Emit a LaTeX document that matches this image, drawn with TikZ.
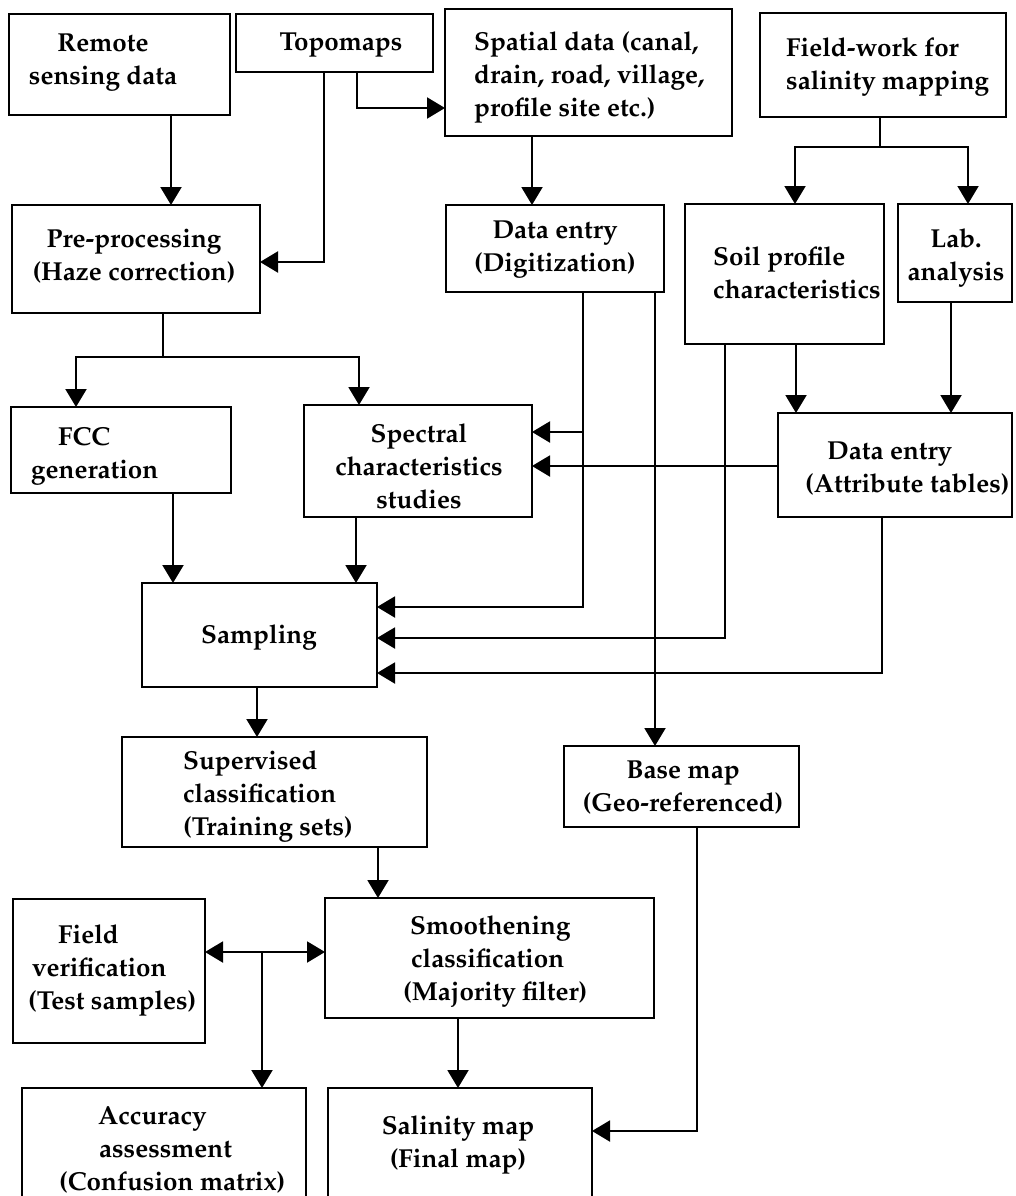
\documentclass[tikz,border=0pt]{standalone}
\usepackage[T1]{fontenc}
\usepackage{mathpazo}
\usetikzlibrary{arrows.meta}

\begin{document}
\begin{tikzpicture}[x=1pt,y=-1pt,
  box/.style={draw, line width=1.9pt, inner sep=0pt, outer sep=0pt},
  lbl/.style={font=\fontsize{26}{33}\selectfont\bfseries, inner sep=0pt, align=center},
  lbll/.style={lbl, align=left, anchor=west},
  link/.style={line width=2pt},
  arr/.style={link, -{Triangle[length=18pt,width=21pt]}},
  darr/.style={link, {Triangle[length=18pt,width=21pt]}-{Triangle[length=18pt,width=21pt]}}]

\clip (0,0) rectangle (1015,1196);
\fill[white] (0,0) rectangle (1015,1196);

% ---------- boxes ----------
\node[box, minimum width=221, minimum height=101] (rs)   at (119.5,64.5) {};
\node[box, minimum width=197, minimum height=58]  (topo) at (334.5,43)   {};
\node[box, minimum width=287, minimum height=127] (sp)   at (588.5,72.5) {};
\node[box, minimum width=246, minimum height=104] (fw)   at (883,65)     {};
\node[box, minimum width=248, minimum height=108] (pre)  at (136,259)    {};
\node[box, minimum width=218, minimum height=87]  (dig)  at (555,248.5)  {};
\node[box, minimum width=199, minimum height=140] (soil) at (784.5,274)  {};
\node[box, minimum width=114, minimum height=98]  (lab)  at (955,253)    {};
\node[box, minimum width=220, minimum height=86]  (fcc)  at (121,450)    {};
\node[box, minimum width=228, minimum height=112] (spec) at (418,461)    {};
\node[box, minimum width=234, minimum height=104] (attr) at (895,465)    {};
\node[box, minimum width=235, minimum height=104] (samp) at (259.5,635)  {};
\node[box, minimum width=305, minimum height=110] (sup)  at (274.5,792)  {};
\node[box, minimum width=235, minimum height=81]  (base) at (681.5,786.5){};
\node[box, minimum width=192, minimum height=144] (fv)   at (109,971)    {};
\node[box, minimum width=329, minimum height=120] (sm)   at (489.5,958)  {};
\node[box, minimum width=284, minimum height=127] (acc)  at (164,1151.5) {};
\node[box, minimum width=264, minimum height=127] (sal)  at (460,1151.5) {};

% ---------- texts ----------
\node[lbl]  (rs-t)   at (103,63)   {Remote\\sensing data};
\node[lbl]  (topo-t) at (341,45)   {Topomaps};
\node[lbll] (sp-t)   at (474,77)   {Spatial data (canal,\\drain, road, village,\\profile site etc.)};
\node[lbll] (fw-t)   at (786,67)   {Field-work for\\salinity mapping};
\node[lbl]  (pre-t)  at (134,256)  {Pre-processing\\(Haze correction)};
\node[lbl]  (dig-t)  at (555,250)  {Data entry\\(Digitization)};
\node[lbll] (soil-t) at (713,273)  {Soil profile\\characteristics};
\node[lbl]  (lab-t)  at (956,258)  {Lab.\\analysis};
\node[lbll] (fcc-t)  at (31,456)   {\hspace*{27pt}FCC\\generation};
\node[lbl]  (spec-t) at (419,466)  {Spectral\\characteristics\\studies};
\node[lbll] (attr-t) at (805,469)  {\hspace*{22pt}Data entry\\(Attribute tables)};
\node[lbl]  (samp-t) at (259,637)  {Sampling};
\node[lbll] (sup-t)  at (183,796)  {Supervised\\classification\\(Training sets)};
\node[lbl]  (base-t) at (683,788)  {Base map\\(Geo-referenced)};
\node[lbll] (fv-t)   at (28,970)   {\hspace*{30pt}Field\\\hspace*{4pt}verification\\(Test samples)};
\node[lbll] (sm-t)   at (403,961)  {\hspace*{7pt}Smoothening\\\hspace*{8pt}classification\\(Majority filter)};
\node[lbll] (acc-t)  at (59,1150)  {\hspace*{39pt}Accuracy\\\hspace*{40pt}assessment\\(Confusion matrix)};
\node[lbl]  (sal-t)  at (458,1145) {Salinity map\\(Final map)};

% ---------- junction and column points ----------
\coordinate (cRS)   at (171,0);
\coordinate (jTopoA) at (324,262);
\coordinate (jTopoB) at (357,108);
\coordinate (cSP)   at (532,0);
\coordinate (jFW)   at (880,147);
\coordinate (cFWl)  at (795,0);
\coordinate (cFWr)  at (968,0);
\coordinate (jPre)  at (163,357);
\coordinate (cPl)   at (76,0);
\coordinate (cPr)   at (359,0);
\coordinate (cFCC)  at (173,0);
\coordinate (cSpec) at (356,0);
\coordinate (jDig)  at (583,607);
\coordinate (jDigS) at (583,432);
\coordinate (cDigB) at (655,0);
\coordinate (jSoil) at (725,638);
\coordinate (cSoil) at (796,0);
\coordinate (cLab)  at (951,0);
\coordinate (rAttr) at (0,466);
\coordinate (jAttr) at (882,673);
\coordinate (cSamp) at (257,0);
\coordinate (cSup)  at (378,0);
\coordinate (rFV)   at (0,952);
\coordinate (jFV)   at (262,952);
\coordinate (cSm)   at (458,0);
\coordinate (jBase) at (697,1131);

% ---------- connectors ----------
\draw[arr] (rs.south -| cRS) -- (pre.north -| cRS);
\draw[arr] (topo.south -| jTopoA) -- (jTopoA) -- (pre.east |- jTopoA);
\draw[arr] (topo.south -| jTopoB) -- (jTopoB) -- (sp.west |- jTopoB);
\draw[arr] (sp.south -| cSP) -- (dig.north -| cSP);

\draw[link] (fw.south -| jFW) -- (jFW);
\draw[arr] (jFW) -| (soil.north -| cFWl);
\draw[arr] (jFW) -| (lab.north -| cFWr);

\draw[link] (pre.south -| jPre) -- (jPre);
\draw[arr] (jPre) -| (fcc.north -| cPl);
\draw[arr] (jPre) -| (spec.north -| cPr);

\draw[arr] (fcc.south -| cFCC) -- (samp.north -| cFCC);
\draw[arr] (spec.south -| cSpec) -- (samp.north -| cSpec);

\draw[arr] (dig.south -| jDig) -- (jDig) -- (samp.east |- jDig);
\draw[arr] (jDigS) -- (spec.east |- jDigS);
\draw[arr] (dig.south -| cDigB) -- (base.north -| cDigB);

\draw[arr] (soil.south -| jSoil) -- (jSoil) -- (samp.east |- jSoil);
\draw[arr] (soil.south -| cSoil) -- (attr.north -| cSoil);
\draw[arr] (lab.south -| cLab) -- (attr.north -| cLab);

\draw[arr] (attr.west |- rAttr) -- (spec.east |- rAttr);
\draw[arr] (attr.south -| jAttr) -- (jAttr) -- (samp.east |- jAttr);

\draw[arr] (samp.south -| cSamp) -- (sup.north -| cSamp);
\draw[arr] (sup.south -| cSup) -- (sm.north -| cSup);

\draw[darr] (fv.east |- rFV) -- (sm.west |- rFV);
\draw[arr] (jFV) -- (acc.north -| jFV);
\draw[arr] (sm.south -| cSm) -- (sal.north -| cSm);
\draw[arr] (base.south -| jBase) -- (jBase) -- (sal.east |- jBase);

\end{tikzpicture}
\end{document}
